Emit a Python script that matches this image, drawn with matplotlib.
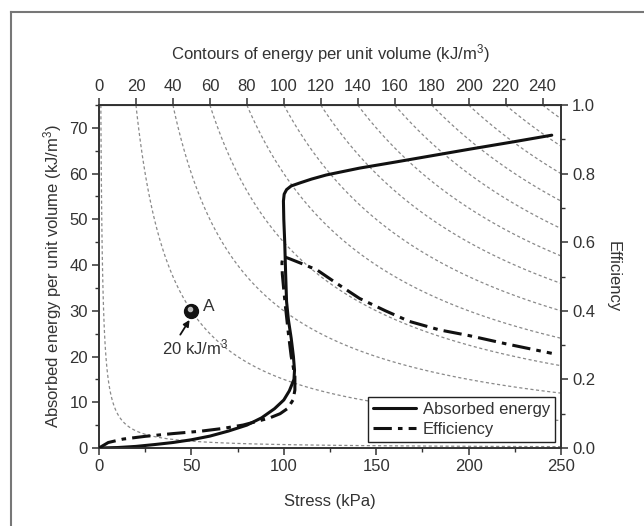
import matplotlib
matplotlib.use("Agg")
import matplotlib.pyplot as plt
import numpy as np
from matplotlib.lines import Line2D

plt.rcParams["font.family"] = ["Liberation Sans", "DejaVu Sans"]
plt.rcParams["mathtext.fontset"] = "custom"
plt.rcParams["mathtext.rm"] = "Liberation Sans"
plt.rcParams["mathtext.it"] = "Liberation Sans"

TEXT = "#333333"

# absorbed energy curve (stress kPa, energy kJ/m3)
energy_stress = [0, 10, 20, 30, 40, 50, 60, 70, 80, 88, 95, 100, 103, 105.5, 105.8,
                 105.2, 104, 102.5, 101.5, 101, 100.5, 100, 99.8, 100.2, 101.5, 104,
                 109, 115, 123, 141, 160, 180, 200, 225, 245]
energy_vals = [0, 0.1, 0.35, 0.75, 1.2, 1.8, 2.6, 3.7, 5.0, 6.6, 8.6, 10.5, 12.5, 15, 17,
               20, 24, 28, 32, 38, 45, 50, 54, 55.5, 56.5, 57.3,
               58.0, 58.8, 59.7, 61.2, 62.5, 63.9, 65.3, 67.0, 68.4]

# efficiency curve (stress kPa, efficiency)
eff_stress = [0, 5, 13, 25, 40, 55, 67, 78, 85, 92, 98, 102, 105, 106, 106, 105, 104,
              102.5, 101, 100, 99.2, 99, 99.5, 101, 103.5, 110, 118, 128.6, 141, 155,
              168, 184.5, 200, 220, 245]
eff_vals = [0, 0.016, 0.026, 0.034, 0.042, 0.049, 0.057, 0.067, 0.077, 0.087, 0.100,
            0.115, 0.140, 0.169, 0.208, 0.240, 0.267, 0.333, 0.407, 0.460, 0.507, 0.540,
            0.557, 0.556, 0.551, 0.537, 0.519, 0.480, 0.436, 0.400, 0.369, 0.344, 0.328,
            0.304, 0.276]

# contour levels of energy per unit volume (top axis)
contour_levels = [1, 20, 40, 60, 80, 100, 120, 140, 160, 180, 200, 220, 240]
top_ticks = [0, 20, 40, 60, 80, 100, 120, 140, 160, 180, 200, 220, 240]

point_a = (50, 30)

fig = plt.figure(figsize=(6.44, 5.26), dpi=100)
# page border, only left and top edges are visible in the crop
bx, by = 11 / 644, 1 - 12 / 526
fig.add_artist(Line2D([bx, bx], [0, by], transform=fig.transFigure,
                      color="#777777", lw=1.5))
fig.add_artist(Line2D([bx, 1], [by, by], transform=fig.transFigure,
                      color="#777777", lw=1.5))

ax = fig.add_axes([99 / 644, 1 - 448 / 526, 462 / 644, 343 / 526])
ax.set_xlim(0, 250)
ax.set_ylim(0, 75)

# hyperbolic contours: energy level c passes through (c, 75)
gx, gy = np.meshgrid(np.linspace(0.2, 250, 1200), np.linspace(0.05, 75, 900))
cs = ax.contour(gx, gy, gx * gy / 75, levels=contour_levels, colors="#8a8a8a",
                linewidths=0.9)
cs.set_linestyle((0, (2.5, 2.0)))

l1, = ax.plot(energy_stress, energy_vals, color="#111111", lw=2.2,
              solid_capstyle="round", label="Absorbed energy", zorder=3)

ax.plot(*point_a, "o", ms=10, color="#111111", zorder=5)
ax.plot(point_a[0] - 0.8, point_a[1] + 0.5, "o", ms=3, color="#bbbbbb", zorder=6)
ax.text(56, point_a[1] + 1.0, "A", fontsize=12.5, color=TEXT,
        ha="left", va="center")
ax.annotate("20 kJ/m$^3$", xy=(point_a[0] - 1.0, point_a[1] - 2.0),
            xytext=(52, 22.0), fontsize=12, color=TEXT, ha="center", va="center",
            arrowprops=dict(arrowstyle="-|>", color="#111111", lw=1.3,
                            shrinkA=0, shrinkB=0, mutation_scale=9,
                            relpos=(0.25, 1.0)))

ax2 = ax.twinx()
ax2.set_ylim(0, 1.0)
l2, = ax2.plot(eff_stress, eff_vals, color="#111111", lw=2.2,
               dashes=(6, 2, 1.5, 2), label="Efficiency", zorder=3)

top = ax.secondary_xaxis("top")
top.set_xticks(top_ticks)
top.set_xlabel("Contours of energy per unit volume (kJ/m$^3$)", fontsize=12,
               color=TEXT, labelpad=14)

ax.set_xticks([0, 50, 100, 150, 200, 250])
ax.set_xticks([25, 75, 125, 175, 225], minor=True)
ax.set_yticks(range(0, 71, 10))
ax.set_yticks(range(5, 76, 10), minor=True)
ax2.set_yticks([0, 0.2, 0.4, 0.6, 0.8, 1.0])
ax2.set_yticklabels(["0.0", "0.2", "0.4", "0.6", "0.8", "1.0"])
ax2.set_yticks([0.1, 0.3, 0.5, 0.7, 0.9], minor=True)

for a in (ax, ax2, top):
    a.tick_params(which="major", direction="out", length=5, width=1.1,
                  colors="#333333", labelsize=12, labelcolor=TEXT, pad=3)
    a.tick_params(which="minor", direction="out", length=3, width=1.0,
                  colors="#333333")
for a in (ax, ax2):
    for s in a.spines.values():
        s.set_linewidth(1.2)
        s.set_color("#333333")

ax.set_xlabel("Stress (kPa)", fontsize=12, color=TEXT, labelpad=14)
ax.set_ylabel("Absorbed energy per unit volume (kJ/m$^3$)", fontsize=12,
              color=TEXT, labelpad=4)
ax2.set_ylabel("Efficiency", fontsize=12, color=TEXT, rotation=270, labelpad=18)

leg = ax2.legend(handles=[l1, l2], loc="lower right", fontsize=12,
                 frameon=True, fancybox=False, edgecolor="#222222",
                 framealpha=1, borderaxespad=0.35, handlelength=2.6,
                 handletextpad=0.4, borderpad=0.3, labelspacing=0.3)
leg.get_frame().set_linewidth(1.0)
for t in leg.get_texts():
    t.set_color(TEXT)

fig.savefig("out.png", dpi=100)
